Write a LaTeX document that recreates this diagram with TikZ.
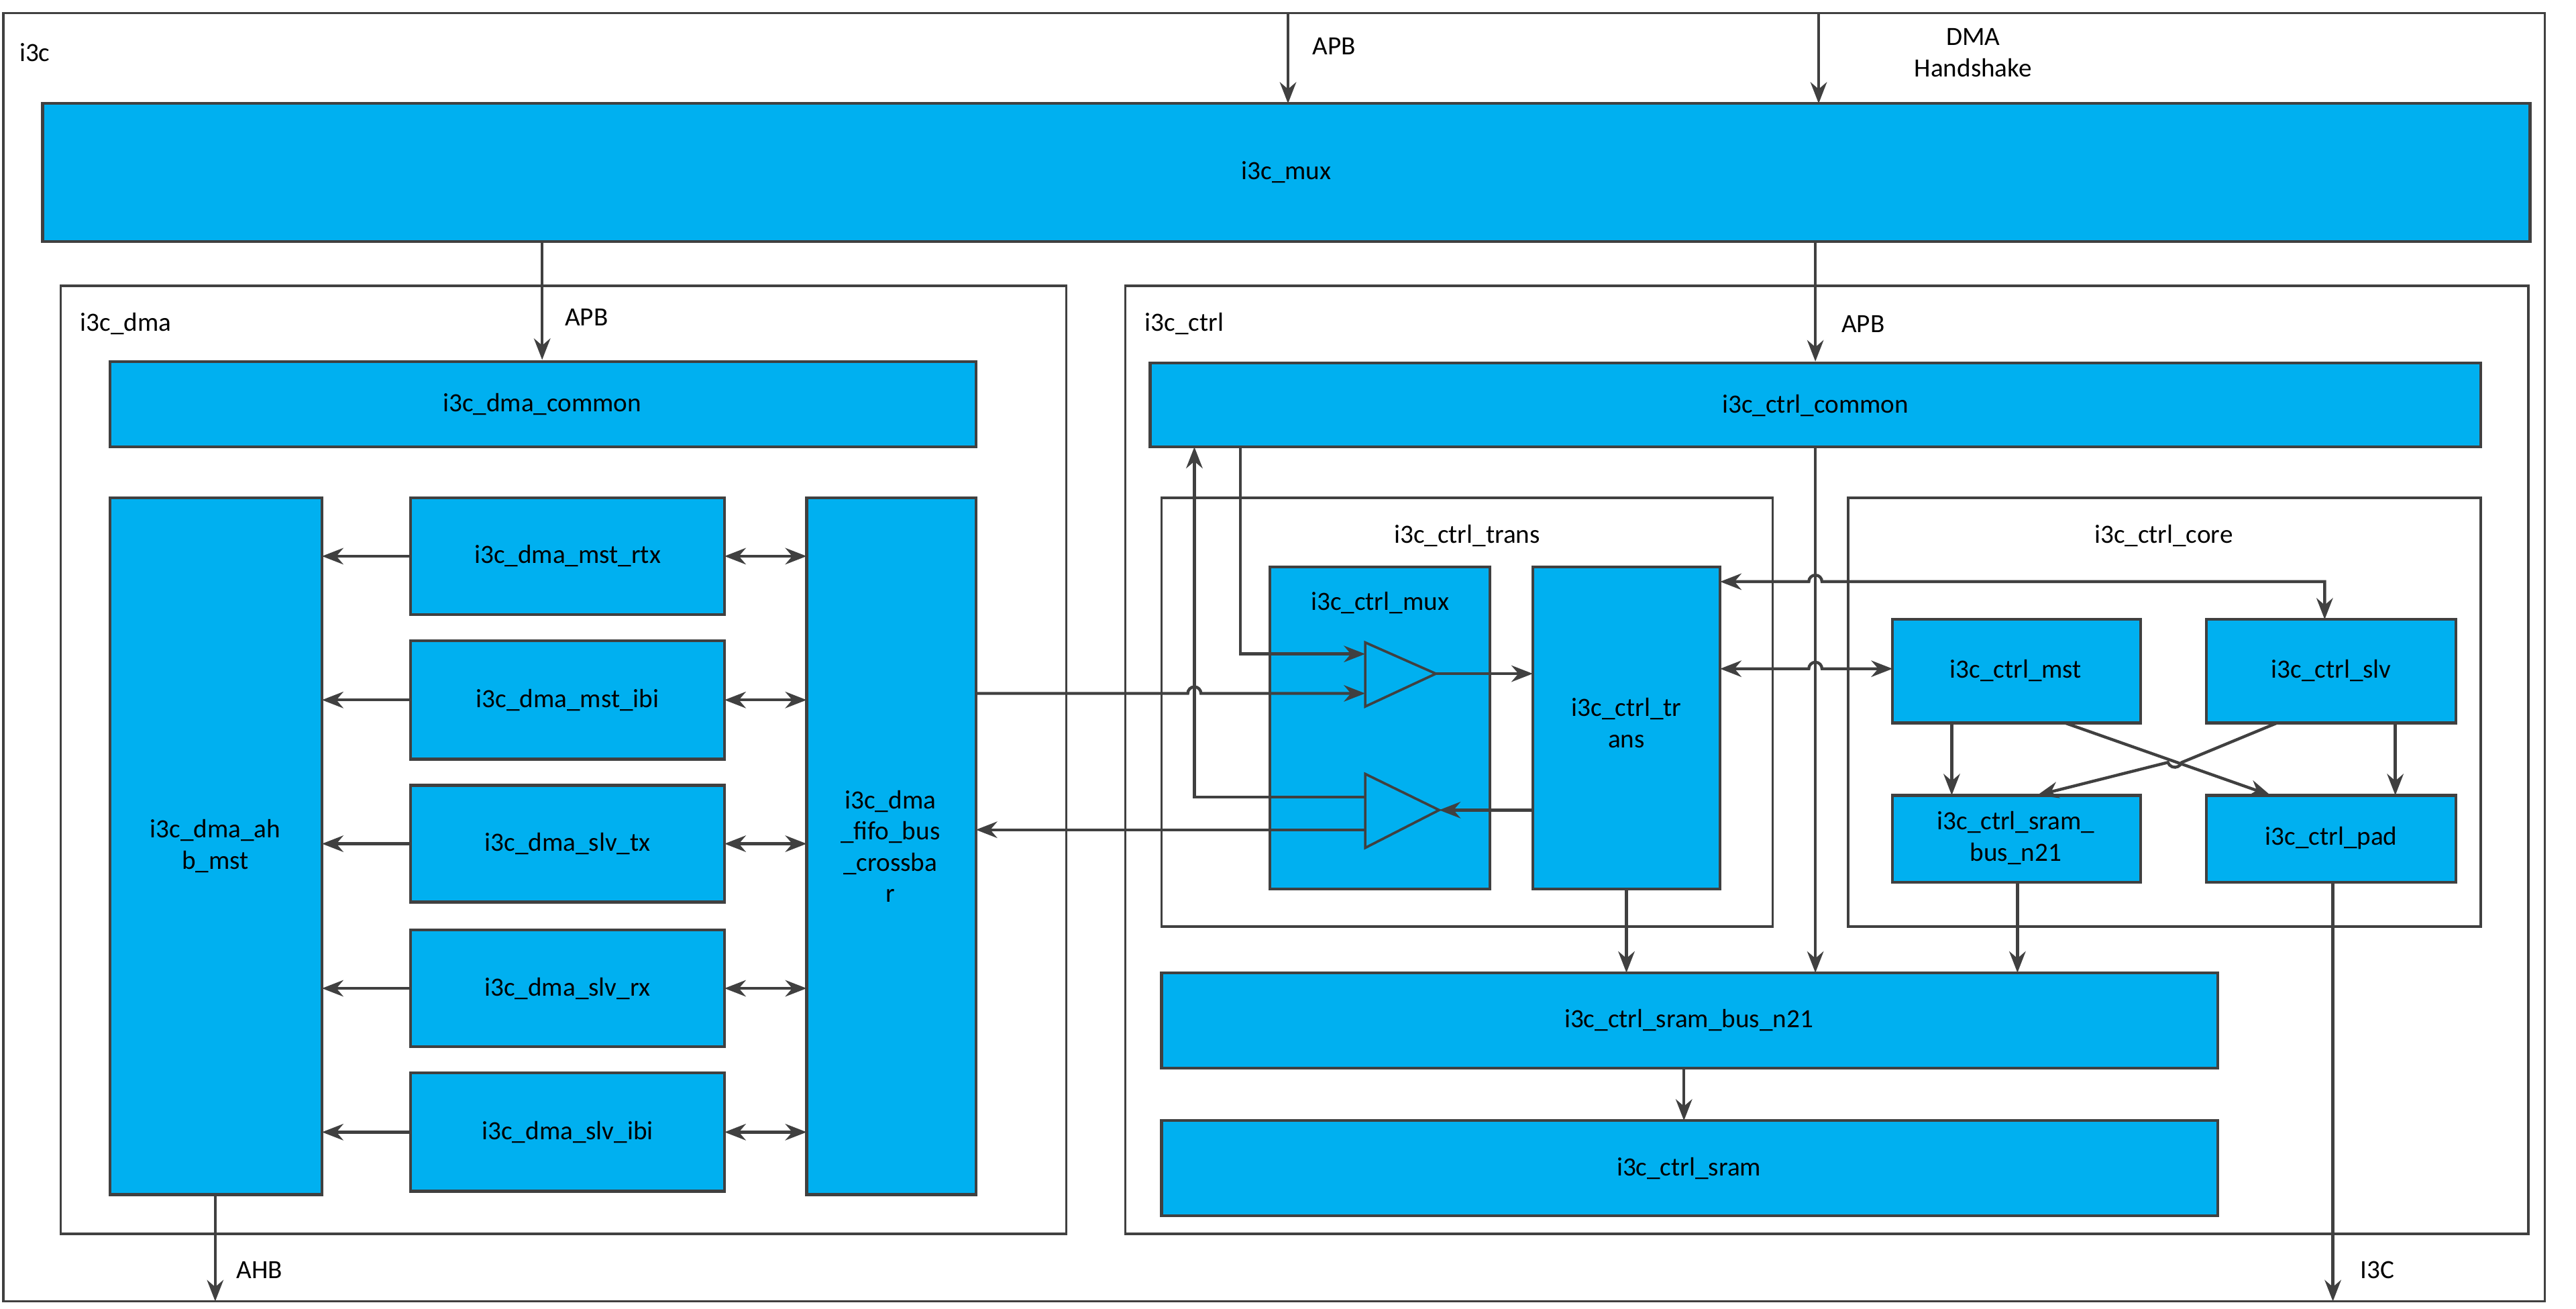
\documentclass[tikz,border=0pt]{standalone}
\usepackage{fontspec}
\setmainfont{Carlito}
\usetikzlibrary{arrows.meta}
\definecolor{ln}{HTML}{404040}
\definecolor{bl}{HTML}{00B0F0}
\begin{document}
\begin{tikzpicture}[x=1pt,y=-1pt,line width=1.8pt,
  every node/.style={font=\fontsize{16}{19}\selectfont,text=black},
  blk/.style={draw=ln,fill=bl,line width=1.8pt},
  grp/.style={draw=ln,line width=1.5pt},
  ar/.style={draw=ln,-{Stealth[length=13pt,width=10pt]}},
  dar/.style={draw=ln,{Stealth[length=13pt,width=10pt]}-{Stealth[length=13pt,width=10pt]}},
  lbl/.style={anchor=west,inner sep=0pt}]
\useasboundingbox (0,0) rectangle (1568,796.6);
% outer
\draw[grp] (2,8) rectangle (1549,792);
\node[lbl] (li3c) at (11,32) {i3c};
\coordinate (apbT) at (784,8); \coordinate (dmaT) at (1107,8);
\draw[blk] (26,63) rectangle (1540,147); \node (mux) at (783,105) {i3c\_mux};
\draw[ar] (apbT) -- (784,63); \node[lbl] (lapb1) at (798,28) {APB};
\draw[ar] (dmaT) -- (1107,63);
\node[align=center,inner sep=0pt] (ldma) at (1201,32) {DMA\\Handshake};
% dma
\draw[grp] (37,174) rectangle (649,751); \node[lbl] (ldmag) at (48,197) {i3c\_dma};
\draw[ar] (330,147) -- (330,219); \node[lbl] (lapb2) at (343,193) {APB};
\draw[blk] (67,220) rectangle (594,272); \node (dcom) at (330,246) {i3c\_dma\_common};
\draw[blk] (67,303) rectangle (196,727);
\node[align=center] (ahb) at (131,515) {i3c\_dma\_ah\\b\_mst};
\draw[blk] (491,303) rectangle (594,727);
\node[align=center] (xbar) at (542,515) {i3c\_dma\\\_fifo\_bus\\\_crossba\\r};
\foreach \t/\a/\b in {mst\_rtx/303/374,mst\_ibi/390/462,slv\_tx/478/549,slv\_rx/566/637,slv\_ibi/653/725}{
  \draw[blk] (250,\a) rectangle (441,\b);
  \node (n\a) at (345.5,{(\a+\b)/2}) {i3c\_dma\_\t};
  \draw[ar] (250,{(\a+\b)/2}) -- (196,{(\a+\b)/2});
  \draw[dar] (441,{(\a+\b)/2}) -- (491,{(\a+\b)/2});
}
\draw[ar] (131,727) -- (131,792); \node[lbl] (lahb) at (143,773) {AHB};
% ctrl
\draw[grp] (685,174) rectangle (1539,751); \node[lbl] (lctrl) at (696,197) {i3c\_ctrl};
\draw[ar] (1105,147) -- (1105,220); \node[lbl] (lapb3) at (1120,197) {APB};
\draw[blk] (700,221) rectangle (1510,272); \node (ccom) at (1105,247) {i3c\_ctrl\_common};
\draw[grp] (707,303) rectangle (1079,564); \node (ltrans) at (893,326) {i3c\_ctrl\_trans};
\draw[blk] (773,345) rectangle (907,541); \node (cmux) at (840,367) {i3c\_ctrl\_mux};
\draw[blk] (933,345) rectangle (1047,541);
\node[align=center] (ctr) at (990,440) {i3c\_ctrl\_tr\\ans};
\draw[grp,fill=bl] (831,391) -- (874,410) -- (831,430) -- cycle;
\draw[grp,fill=bl] (831,471) -- (876,493) -- (831,516) -- cycle;
\draw[ar] (755,272) -- (755,398) -- (831,398);
\draw[ar] (594,422) -- (723,422) arc (180:360:4) -- (831,422);
\draw[ar] (874,410) -- (933,410);
\draw[ar] (933,493) -- (876,493);
\draw[ar] (831,485) -- (727,485) -- (727,272);
\draw[ar] (831,505) -- (594,505);
\draw[dar] (1047,354) -- (1101,354) arc (180:360:4) -- (1415,354) -- (1415,377);
\draw[dar] (1047,407) -- (1101,407) arc (180:360:4) -- (1152,407);
% core
\draw[grp] (1125,303) rectangle (1510,564); \node (lcore) at (1317,326) {i3c\_ctrl\_core};
\draw[blk] (1152,377) rectangle (1303,440); \node (mst) at (1227,408) {i3c\_ctrl\_mst};
\draw[blk] (1343,377) rectangle (1495,440); \node (slv) at (1419,408) {i3c\_ctrl\_slv};
\draw[blk] (1152,484) rectangle (1303,537);
\node[align=center] (sbs) at (1227,510) {i3c\_ctrl\_sram\_\\bus\_n21};
\draw[blk] (1343,484) rectangle (1495,537); \node (pad) at (1419,510) {i3c\_ctrl\_pad};
\draw[ar] (1188,440) -- (1188,484);
\draw[ar] (1458,440) -- (1458,484);
\draw[ar] (1257,440) -- (1382,484);
\draw[ar] (1386,440) -- (1328,464) arc (20:160:4.5) -- (1240,484);
\draw[ar] (1228,537) -- (1228,592);
\draw[ar] (990,541) -- (990,592);
\draw[ar] (1105,272) -- (1105,592);
\draw[ar] (1420,537) -- (1420,792); \node[lbl] (li3cb) at (1436,773) {I3C};
\draw[blk] (707,592) rectangle (1350,650); \node (sb) at (1028,621) {i3c\_ctrl\_sram\_bus\_n21};
\draw[ar] (1025,650) -- (1025,682);
\draw[blk] (707,682) rectangle (1350,740); \node (sr) at (1028,711) {i3c\_ctrl\_sram};
\end{tikzpicture}
\end{document}
